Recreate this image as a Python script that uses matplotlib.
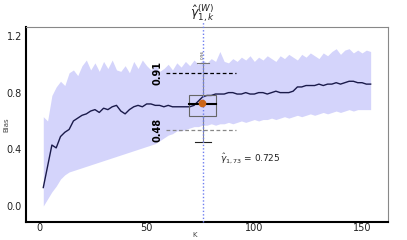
import numpy as np
import matplotlib
matplotlib.use("Agg")
import matplotlib.pyplot as plt
from matplotlib.patches import Rectangle

# K grid (step 2) and values
k = np.arange(2, 156, 2)
bias = [0.13, 0.28, 0.43, 0.41, 0.49, 0.52, 0.54, 0.60, 0.62, 0.64,
        0.65, 0.67, 0.68, 0.66, 0.69, 0.68, 0.70, 0.71, 0.67, 0.65,
        0.68, 0.70, 0.71, 0.70, 0.72, 0.72, 0.71, 0.71, 0.70, 0.71,
        0.70, 0.70, 0.70, 0.70, 0.70, 0.71, 0.74, 0.77, 0.78, 0.78,
        0.79, 0.79, 0.79, 0.80, 0.80, 0.79, 0.79, 0.80, 0.79, 0.79,
        0.80, 0.80, 0.79, 0.80, 0.81, 0.80, 0.80, 0.80, 0.81, 0.84,
        0.84, 0.85, 0.85, 0.85, 0.86, 0.85, 0.86, 0.86, 0.87, 0.86,
        0.87, 0.88, 0.88, 0.87, 0.87, 0.86, 0.86]
upper = [0.63, 0.60, 0.78, 0.84, 0.88, 0.85, 0.94, 0.96, 0.92, 0.99,
         1.03, 0.96, 1.01, 0.95, 1.02, 0.97, 1.03, 0.96, 0.95, 0.99,
         0.94, 1.02, 0.97, 1.03, 0.99, 0.96, 1.00, 0.95, 0.97, 1.00,
         0.96, 1.01, 0.98, 1.02, 0.99, 1.03, 1.00, 1.03, 1.01, 1.04,
         1.02, 1.09, 1.02, 1.01, 1.04, 1.02, 1.05, 1.03, 1.06, 1.02,
         1.05, 1.03, 1.06, 1.04, 1.02, 1.06, 1.04, 1.07, 1.05, 1.03,
         1.07, 1.05, 1.08, 1.06, 1.04, 1.08, 1.06, 1.09, 1.11, 1.07,
         1.10, 1.11, 1.08, 1.10, 1.08, 1.10, 1.09]
lower = [0.00, 0.05, 0.10, 0.14, 0.19, 0.22, 0.24, 0.25, 0.26, 0.27,
         0.28, 0.29, 0.30, 0.31, 0.32, 0.33, 0.34, 0.35, 0.36, 0.37,
         0.38, 0.39, 0.40, 0.41, 0.42, 0.43, 0.44, 0.46, 0.48, 0.50,
         0.51, 0.53, 0.53, 0.54, 0.55, 0.56, 0.56, 0.57, 0.57, 0.58,
         0.57, 0.58, 0.58, 0.59, 0.58, 0.59, 0.60, 0.59, 0.60, 0.61,
         0.60, 0.61, 0.61, 0.62, 0.61, 0.62, 0.63, 0.62, 0.63, 0.64,
         0.63, 0.64, 0.65, 0.64, 0.65, 0.66, 0.65, 0.66, 0.67, 0.66,
         0.67, 0.68, 0.67, 0.68, 0.68, 0.68, 0.68]

k_sel = 76
box_lo, box_med, box_hi = 0.635, 0.72, 0.783
whisk_lo, whisk_hi = 0.45, 1.01
q_hi, q_lo = 0.94, 0.535
q_hi_lbl, q_lo_lbl = "0.91", "0.48"
gamma_k, gamma_val = 75.5, 0.727

fig = plt.figure(figsize=(4.07, 2.4), dpi=100)
ax = fig.add_axes([0.064, 0.075, 0.889, 0.8125])

ax.fill_between(k, lower, upper, color="#d4d4fb", lw=0)
ax.plot(k, bias, color="#1a1a4a", lw=1.0)

# box + whiskers at the selected K
ax.add_patch(Rectangle((k_sel - 6.3, box_lo), 12.6, box_hi - box_lo,
                       fill=False, edgecolor="#666666", lw=0.8, zorder=3))
ax.plot([k_sel - 6.3, k_sel + 6.3], [box_med, box_med], color="black", lw=1.5, zorder=4)
ax.plot([k_sel, k_sel], [box_hi, whisk_hi], color="#888888", lw=0.8, zorder=3)
ax.plot([k_sel, k_sel], [whisk_lo, box_lo], color="#888888", lw=0.8, zorder=3)
ax.plot([k_sel - 2.8, k_sel + 2.8], [whisk_hi, whisk_hi], color="#777777", lw=0.8)
ax.plot([k_sel - 3.7, k_sel + 3.7], [whisk_lo, whisk_lo], color="#222222", lw=0.8)

ax.plot([58.8, 91.7], [q_hi, q_hi], color="black", lw=0.9, ls=(0, (3, 2)))
ax.plot([58.8, 91.7], [q_lo, q_lo], color="#888888", lw=0.9, ls=(0, (3, 2)))
ax.text(55, q_hi, q_hi_lbl, rotation=90, ha="center", va="center",
        fontsize=7, fontweight="bold")
ax.text(55, q_lo, q_lo_lbl, rotation=90, ha="center", va="center",
        fontsize=7, fontweight="bold")
ax.text(k_sel, 1.07, "0.96", rotation=90, ha="center", va="center",
        fontsize=3, color="#444444")

ax.axvline(k_sel, ymin=0, ymax=1.03, color="#6f7ff0", lw=1.0,
           ls=(0, (1, 1.5)), clip_on=False, zorder=5)
ax.plot([gamma_k], [gamma_val], "o", color="#cc6619", ms=4.5, zorder=6)

ax.text(k_sel, 1.285, r"$\hat{\gamma}^{(W)}_{1,k}$", ha="center", va="bottom",
        fontsize=9, color="#222222", clip_on=False)
ax.text(84, 0.33, r"$\hat{\gamma}_{1,73}$ = 0.725", ha="left", va="center",
        fontsize=6.5, color="#222222")

ax.set_xlim(-6, 162)
ax.set_ylim(-0.113, 1.263)
ax.set_xticks([0, 50, 100, 150])
ax.set_yticks([0.0, 0.4, 0.8, 1.2])
ax.set_yticklabels(["0.0", "0.4", "0.8", "1.2"])
ax.tick_params(length=0, labelsize=7, labelcolor="#222222")
ax.tick_params(axis="x", pad=1)
ax.tick_params(axis="y", pad=3)
ax.set_xlabel("K", fontsize=5, color="#444444")
ax.set_ylabel("Bias", fontsize=5, color="#444444")
ax.xaxis.set_label_coords(0.465, -0.05)
ax.yaxis.set_label_coords(-0.045, 0.5)

for s in ("left", "bottom"):
    ax.spines[s].set_linewidth(1.5)
    ax.spines[s].set_color("black")
for s in ("top", "right"):
    ax.spines[s].set_linewidth(0.8)
    ax.spines[s].set_color("#888888")

fig.savefig("out.png", dpi=100)
